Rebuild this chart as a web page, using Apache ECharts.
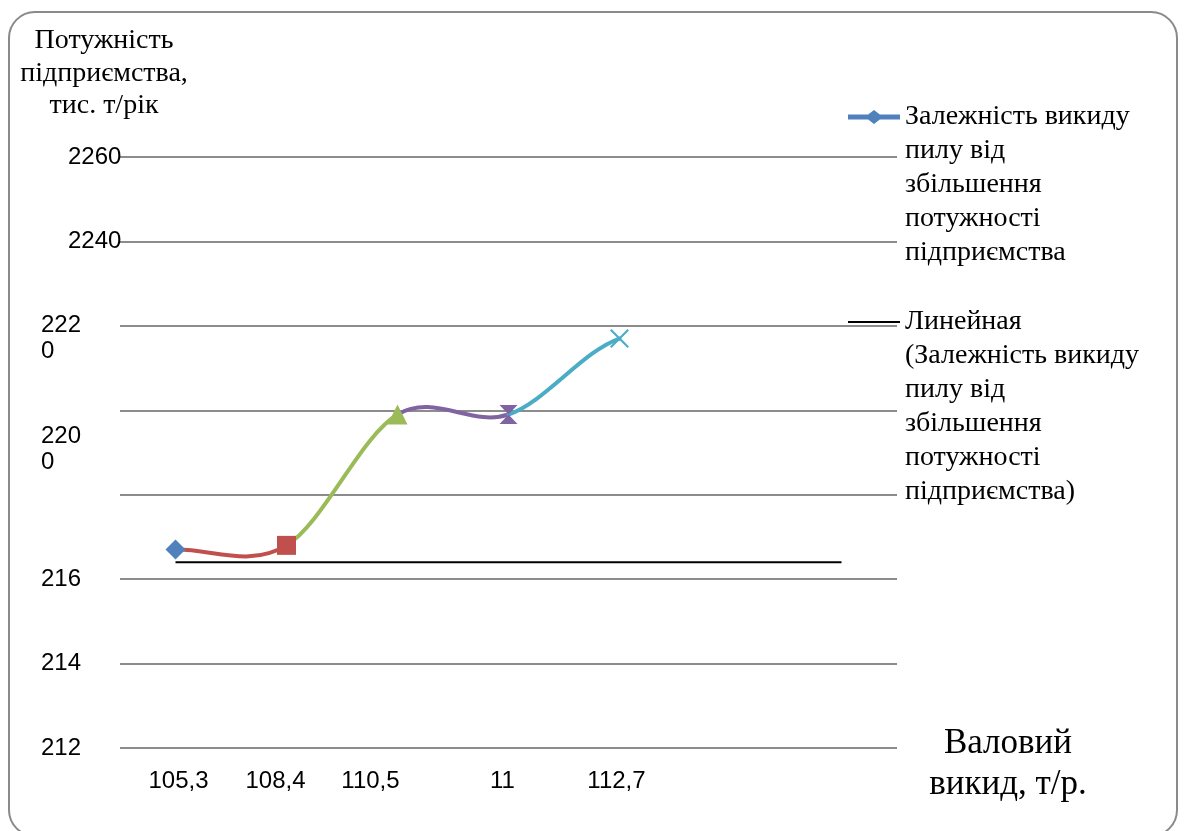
<!DOCTYPE html>
<html>
<head>
<meta charset="utf-8">
<script src="https://cdn.jsdelivr.net/npm/echarts@6/dist/echarts.min.js"></script>
<style>
  html, body { margin: 0; padding: 0; background: #fff; }
  #chart { width: 1186px; height: 831px; }
</style>
</head>
<body>
<div id="chart"></div>
<script>
// Gross dust emission, t/yr (category axis)
const categories = ['105,3', '108,4', '110,5', '11', '112,7', '', ''];
// Plant capacity, thousand t/yr, at each emission value
const capacity = [2167, 2168, 2199, 2199, 2217];
// Linear trend of the capacity series
const trend = [2164, 2164, 2164, 2164, 2164, 2164, 2164];
// Value-axis ticks and the text printed at each of them
const yTicks = [2120, 2140, 2160, 2180, 2200, 2220, 2240, 2260];
const yTickLabels = ['212', '214', '216', '', '220\n0', '222\n0', '2240', '2260'];

const seriesName = 'Залежність викиду пилу від збільшення потужності підприємства';
const trendName = 'Линейная (Залежність викиду пилу від збільшення потужності підприємства)';
const legendLines = {};
legendLines[seriesName] = 'Залежність викиду\nпилу від\nзбільшення\nпотужності\nпідприємства';
legendLines[trendName] = 'Линейная\n(Залежність викиду\nпилу від\nзбільшення\nпотужності\nпідприємства)';

// ---- styling ----
const SERIF = '"Liberation Serif", "Times New Roman", serif';
const SANS = '"Liberation Sans", Arial, sans-serif';
const BLUE = '#4F81BD', RED = '#C0504D', GREEN = '#9BBB59', PURPLE = '#8064A2', CYAN = '#4BACC6';
const pointColors = [BLUE, RED, GREEN, PURPLE, CYAN];
const HOURGLASS = 'path://M0,0L20,0L10,10Z M10,10L20,20L0,20Z';
const CROSS = 'path://M0,1.6L1.6,0L10,8.4L18.4,0L20,1.6L11.6,10L20,18.4L18.4,20L10,11.6L1.6,20L0,18.4L8.4,10Z';
const markerSymbols = ['diamond', 'rect', 'triangle', HOURGLASS, CROSS];
const markerSizes = [20, 19, 20, [18, 19], 19];
// legend key: thick line with a diamond in the middle
const LINE_DIAMOND = 'path://M0,4.5L20.2,4.5L26,0L31.8,4.5L52,4.5L52,9.5L31.8,9.5L26,14L20.2,9.5L0,9.5Z';

// small horizontal nudges (px) of the category labels
const xLabelShift = [3, -11, -27, -6, -3, 0, 0];
// how many lines a wrapped value label sits below its tick
const yLabelDrop = [0, 0, 0, 0, 1, 0, 0, 0];

const Y_LH = 26;
const yRich = {
  n: { fontFamily: SANS, fontSize: 24, lineHeight: Y_LH, color: '#000' },
  w: { fontFamily: SANS, fontSize: 24, lineHeight: Y_LH, color: '#000', padding: [0, 0, 0, 27] }
};
function yLabel(value) {
  const i = yTicks.indexOf(value);
  if (i < 0 || !yTickLabels[i]) return '';
  const text = yTickLabels[i];
  const lines = text.split('\n');
  if (lines.length === 1 && text.length === 4) return '{w|' + text + '}';
  const blanks = 2 * yLabelDrop[i] + lines.length - 1;
  const out = [];
  for (let k = 0; k < blanks; k++) out.push('{n| }');
  lines.forEach(l => out.push('{n|' + l + '}'));
  return out.join('\n');
}

const xRich = {};
xLabelShift.forEach((s, i) => {
  xRich['c' + i] = {
    fontFamily: SANS, fontSize: 24, lineHeight: 26, color: '#000',
    padding: s >= 0 ? [0, 0, 0, 2 * s] : [0, -2 * s, 0, 0]
  };
});

// Legend text is centred on its key, so leading empty lines put the
// first text line level with the key.
const LEG_LH = 34;
function legendBlock(name, keyCenter) {
  const n = legendLines[name].split('\n').length;
  return { top: keyCenter - (2 * n - 1) * LEG_LH / 2, lead: '\n'.repeat(n - 1) };
}
const leg1 = legendBlock(seriesName, 117);
const leg2 = legendBlock(trendName, 322);
const legendText = { fontFamily: SERIF, fontSize: 28, lineHeight: LEG_LH, color: '#000' };

// Smoothed segment between point i and i+1 (cardinal spline, tension 1/6),
// coloured like the point it ends at.
function renderSegment(params, api) {
  const i = params.dataIndex;
  if (i >= capacity.length - 1) return null;
  const pt = j => api.coord([j, capacity[Math.max(0, Math.min(capacity.length - 1, j))]]);
  const p0 = pt(i - 1), p1 = pt(i), p2 = pt(i + 1), p3 = pt(i + 2);
  return {
    type: 'bezierCurve',
    shape: {
      x1: p1[0], y1: p1[1], x2: p2[0], y2: p2[1],
      cpx1: p1[0] + (p2[0] - p0[0]) / 6, cpy1: p1[1] + (p2[1] - p0[1]) / 6,
      cpx2: p2[0] - (p3[0] - p1[0]) / 6, cpy2: p2[1] - (p3[1] - p1[1]) / 6
    },
    style: { stroke: pointColors[i + 1], lineWidth: 4, fill: null, lineCap: 'round' }
  };
}

const chart = echarts.init(document.getElementById('chart'), null, { renderer: 'canvas' });
chart.setOption({
  animation: false,
  backgroundColor: '#fff',
  graphic: [{
    type: 'rect', z: -10, silent: true,
    shape: { x: 9, y: 12, width: 1168, height: 824, r: 26 },
    style: { fill: 'none', stroke: '#8a8a8a', lineWidth: 2 }
  }],
  grid: { left: 120, right: 289, top: 157, bottom: 83, containLabel: false, outerBoundsMode: 'none' },
  legend: [{
    left: 848, top: leg1.top, padding: 0, orient: 'vertical',
    itemWidth: 52, itemHeight: 14,
    data: [{ name: seriesName, icon: LINE_DIAMOND, itemStyle: { color: BLUE } }],
    formatter: name => leg1.lead + legendLines[name],
    textStyle: legendText
  }, {
    left: 848, top: leg2.top, padding: 0, orient: 'vertical',
    itemWidth: 52, itemHeight: 2,
    data: [{ name: trendName, icon: 'rect', itemStyle: { color: '#000' } }],
    formatter: name => leg2.lead + legendLines[name],
    textStyle: legendText
  }],
  xAxis: {
    type: 'category',
    data: categories,
    boundaryGap: true,
    axisLine: { show: false },
    axisTick: { show: false },
    axisLabel: {
      interval: 0, margin: 20,
      formatter: (v, i) => '{c' + i + '|' + v + '}',
      rich: xRich
    },
    name: '{s| }\n{a|Валовий}\n{a|викид, т/р.}',
    nameLocation: 'end',
    nameGap: 111,
    nameTextStyle: {
      align: 'center', verticalAlign: 'middle',
      rich: {
        s: { fontSize: 10, lineHeight: 32 },
        a: { fontFamily: SERIF, fontSize: 35, lineHeight: 41, color: '#000' }
      }
    }
  },
  yAxis: {
    type: 'value',
    min: 2120, max: 2260, interval: 20,
    axisLine: { show: false },
    axisTick: { show: false },
    splitLine: { lineStyle: { color: '#8c8c8c', width: 2 } },
    axisLabel: { align: 'left', margin: 79, formatter: yLabel, rich: yRich },
    name: 'Потужність\nпідприємства,\nтис. т/рік',
    nameLocation: 'end',
    nameGap: 35,
    nameTextStyle: {
      fontFamily: SERIF, fontSize: 28, lineHeight: 32.5, color: '#000',
      align: 'center', verticalAlign: 'bottom', padding: [0, 32, 0, 0]
    }
  },
  series: [{
    name: seriesName,
    type: 'custom',
    data: capacity.map((v, i) => [i, v]),
    encode: { x: 0, y: 1 },
    renderItem: renderSegment,
    itemStyle: { color: BLUE },
    z: 3
  }, {
    name: seriesName,
    type: 'scatter',
    data: capacity.map((v, i) => ({
      value: [i, v],
      symbol: markerSymbols[i],
      symbolSize: markerSizes[i],
      itemStyle: { color: pointColors[i], opacity: 1 }
    })),
    z: 4
  }, {
    name: trendName,
    type: 'line',
    data: trend,
    symbol: 'none',
    lineStyle: { width: 2, color: '#000' },
    itemStyle: { color: '#000' },
    z: 2
  }]
});
</script>
</body>
</html>
